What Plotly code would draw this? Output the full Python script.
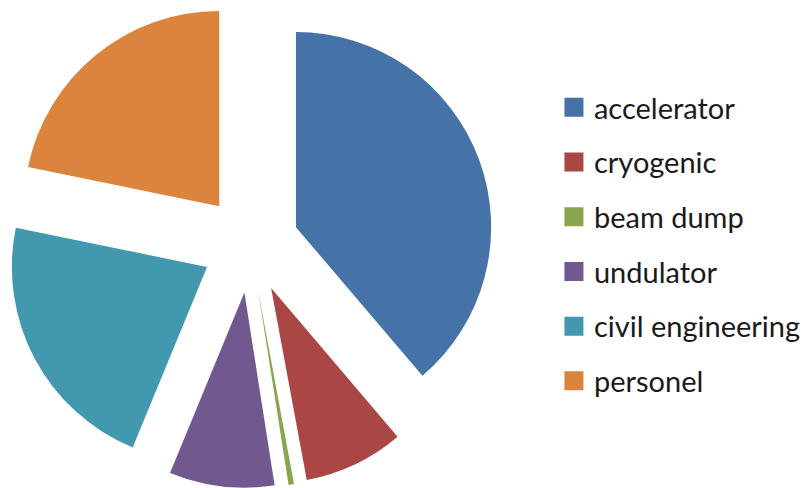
import plotly.graph_objects as go

# Cost breakdown (percent of total)
categories = ["accelerator", "cryogenic", "beam dump", "undulator", "civil engineering", "personel"]
shares = [38.8, 8.3, 0.45, 8.7, 22.0, 21.8]
colors = ["#4572A7", "#AA4643", "#89A54E", "#71588F", "#4198AF", "#DB843D"]

fig = go.Figure()

fig.add_trace(go.Pie(
    labels=categories,
    values=shares,
    marker=dict(colors=colors, line=dict(width=0)),
    pull=[0.25] * len(categories),
    sort=False,
    direction="clockwise",
    rotation=0,
    textinfo="none",
    showlegend=False,
    domain=dict(x=[0, 0.623], y=[0, 1]),
))

# Legend entries: one square swatch per category, each in its own group for spacing
for name, col in zip(categories, colors):
    fig.add_trace(go.Scatter(
        x=[None], y=[None],
        mode="markers",
        name=name,
        legendgroup=name,
        marker=dict(symbol="square", size=16, color=col, line=dict(color=col, width=3)),
        hoverinfo="skip",
    ))

fig.update_layout(
    width=806,
    height=488,
    margin=dict(l=0, r=0, t=0, b=0),
    paper_bgcolor="white",
    plot_bgcolor="white",
    xaxis=dict(visible=False),
    yaxis=dict(visible=False),
    legend=dict(
        x=556 / 806,
        xanchor="left",
        y=1 - 82 / 488,
        yanchor="top",
        traceorder="grouped",
        tracegroupgap=14,
        bgcolor="rgba(0,0,0,0)",
        borderwidth=0,
        font=dict(family="Lato", size=29, color="#1a1a1a"),
    ),
)

fig.write_html("out.html")
